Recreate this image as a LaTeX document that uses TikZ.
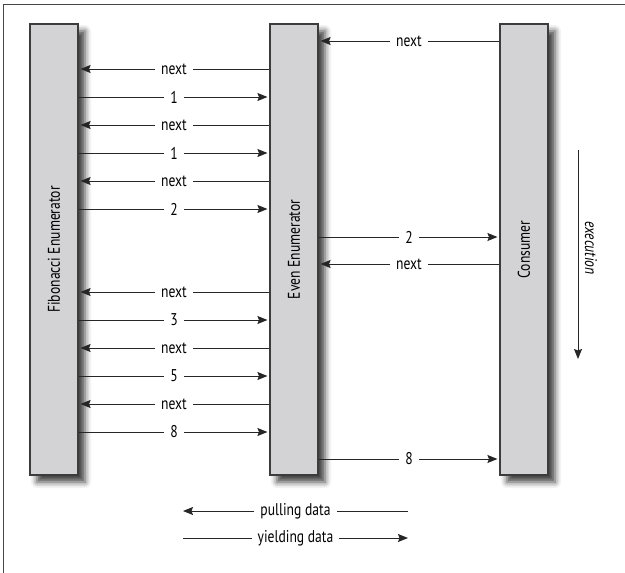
\documentclass[tikz,border=0pt]{standalone}
\usepackage{fontspec}
\setmainfont{PT Sans}[FakeStretch=0.8]
\usetikzlibrary{arrows.meta,shadows.blur}
\definecolor{boxgray}{RGB}{211,211,213}
\definecolor{edgegray}{RGB}{60,60,60}
\definecolor{framegray}{RGB}{70,70,70}

\begin{document}
\begin{tikzpicture}[x=1pt,y=-1pt,
  lane/.style={draw=edgegray, line width=1.1pt, fill=boxgray, minimum width=48pt, minimum height=451pt, inner sep=0pt,
    blur shadow={shadow xshift=7pt, shadow yshift=-7pt, shadow blur radius=6pt, shadow opacity=75}},
  flow/.style={draw=black!85, line width=1pt, -{Stealth[length=10pt,width=8pt,inset=1.5pt]}, shorten >=2pt},
  tag/.style={midway, fill=white, inner xsep=6pt, inner ysep=1pt, font=\fontsize{17}{19}\selectfont}]
\useasboundingbox (0,0) rectangle (625,573);
\draw[framegray, line width=1.5pt] (3.5,573) -- (3.5,4.5) -- (625,4.5);
\node[lane] (fib) at (54,249.5) {\fontsize{17}{19}\selectfont\rotatebox{90}{Fibonacci Enumerator}};
\node[lane] (even) at (294,249.5) {\fontsize{17}{19}\selectfont\rotatebox{90}{Even Enumerator}};
\node[lane] (cons) at (524,249.5) {\fontsize{17}{19}\selectfont\rotatebox{90}{Consumer}};
\draw[flow] (cons.west |- 0,41) -- node[tag] {next} (even.east |- 0,41);
\draw[flow] (even.west |- 0,69) -- node[tag] {next} (fib.east |- 0,69);
\draw[flow] (fib.east |- 0,97) -- node[tag] {1} (even.west |- 0,97);
\draw[flow] (even.west |- 0,125) -- node[tag] {next} (fib.east |- 0,125);
\draw[flow] (fib.east |- 0,153) -- node[tag] {1} (even.west |- 0,153);
\draw[flow] (even.west |- 0,181) -- node[tag] {next} (fib.east |- 0,181);
\draw[flow] (fib.east |- 0,209) -- node[tag] {2} (even.west |- 0,209);
\draw[flow] (even.east |- 0,237) -- node[tag] {2} (cons.west |- 0,237);
\draw[flow] (cons.west |- 0,264) -- node[tag] {next} (even.east |- 0,264);
\draw[flow] (even.west |- 0,292) -- node[tag] {next} (fib.east |- 0,292);
\draw[flow] (fib.east |- 0,320) -- node[tag] {3} (even.west |- 0,320);
\draw[flow] (even.west |- 0,348) -- node[tag] {next} (fib.east |- 0,348);
\draw[flow] (fib.east |- 0,376) -- node[tag] {5} (even.west |- 0,376);
\draw[flow] (even.west |- 0,404) -- node[tag] {next} (fib.east |- 0,404);
\draw[flow] (fib.east |- 0,432) -- node[tag] {8} (even.west |- 0,432);
\draw[flow] (even.east |- 0,459) -- node[tag] {8} (cons.west |- 0,459);
% time axis
\coordinate (execTop) at (578,150);
\coordinate (execEnd) at (578,359);
\draw[flow, shorten >=0pt] (execTop) -- (execEnd);
\node[rotate=-90, font=\fontsize{17}{19}\selectfont\itshape] (exec) at (591,248) {execution};
% legend
\coordinate (pullR) at (408,511);
\coordinate (pullL) at (183,511);
\coordinate (yieldL) at (183,538);
\coordinate (yieldR) at (408,538);
\draw[flow, shorten >=0pt] (pullR) -- node[tag] {pulling data} (pullL);
\draw[flow, shorten >=0pt] (yieldL) -- node[tag] {yielding data} (yieldR);
\end{tikzpicture}
\end{document}
